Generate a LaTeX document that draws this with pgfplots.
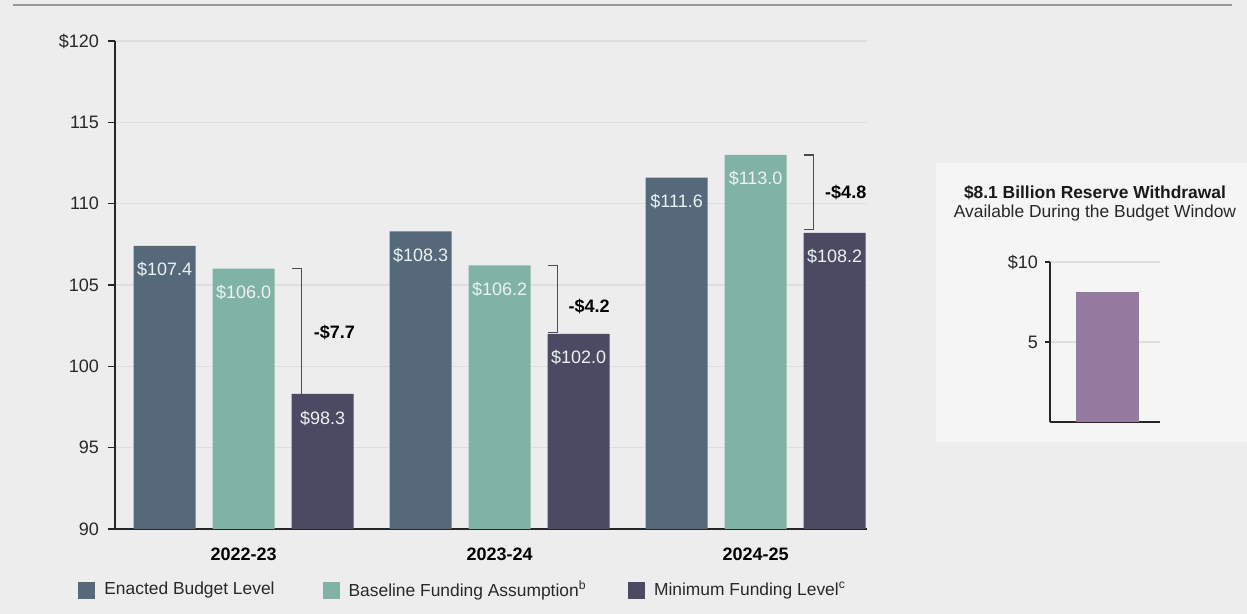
\documentclass[border=0pt]{standalone}
\usepackage{fontspec}
\setmainfont{Liberation Sans}
\usepackage{pgfplots}
\pgfplotsset{compat=1.18}

\definecolor{bg}{RGB}{237,237,237}
\definecolor{panel}{RGB}{245,245,245}
\definecolor{enacted}{RGB}{86,105,122}
\definecolor{baseline}{RGB}{128,179,165}
\definecolor{minimum}{RGB}{75,74,98}
\definecolor{reserve}{RGB}{149,122,160}
\definecolor{gridc}{RGB}{222,222,222}
\definecolor{txt}{RGB}{40,40,40}
\definecolor{barlbl}{RGB}{236,242,242}

\pgfplotsset{
  sqlegend/.style={legend image code/.code={\fill[##1] (0bp,-8.5bp) rectangle (17bp,8.5bp);}},
}
\newcommand\smallfont{\fontsize{17.4bp}{21bp}\selectfont}

\begin{document}
\fontsize{18bp}{21bp}\selectfont
\begin{tikzpicture}
\fill[bg] (0bp,0bp) rectangle (1247bp,614bp);
\path[use as bounding box] (0bp,0bp) rectangle (1247bp,614bp);
\draw[black!40, line width=2bp] (13bp,609bp) -- (1232bp,609bp);
\fill[panel] (936bp,172bp) rectangle (1247bp,451bp);

% main chart
\begin{axis}[
  at={(115bp,85bp)}, anchor=south west,
  width=752bp, height=488bp, scale only axis,
  xmin=-0.502, xmax=2.435, ymin=90, ymax=120,
  axis x line=bottom, axis y line=left,
  axis line style={-, line width=2bp, black!85},
  ybar=17bp, bar width=62bp,
  xtick={0,1,2},
  xticklabels={2022-23,2023-24,2024-25},
  xtick style={draw=none},
  xticklabel style={font=\bfseries, text=black, yshift=-6bp},
  ytick={90,95,100,105,110,115,120},
  yticklabels={90,95,100,105,110,115,\$120},
  ytick style={line width=1.5bp, black!85},
  yticklabel style={text=txt, xshift=-3bp},
  tick align=outside, major tick length=7bp,
  ymajorgrids, grid style={gridc, line width=1.2bp},
  /pgf/number format/assume math mode=true,
  point meta=explicit symbolic,
  nodes near coords,
  every node near coord/.append style={anchor=center, yshift=-24bp, text=barlbl},
  legend columns=3,
  legend style={at={(axis description cs:-0.049,-0.125)}, anchor=west,
    draw=none, fill=none, inner sep=0pt, font=\smallfont,
    nodes={inner sep=0pt, text=txt},
    /tikz/every odd column/.append style={column sep=9bp},
    /tikz/column 2/.append style={column sep=48bp},
    /tikz/column 4/.append style={column sep=42bp}},
]
\addplot[fill=enacted, draw=none, sqlegend] coordinates {
  (0,107.4) [\$107.4]
  (1,108.3) [\$108.3]
  (2,111.6) [\$111.6]
};
\addlegendentry{Enacted Budget Level}
\addplot[fill=baseline, draw=none, sqlegend] coordinates {
  (0,106.0) [\$106.0]
  (1,106.2) [\$106.2]
  (2,113.0) [\$113.0]
};
\addlegendentry{Baseline Funding Assumption\textsuperscript{b}}
\addplot[fill=minimum, draw=none, sqlegend] coordinates {
  (0,98.3) [\$98.3]
  (1,102.0) [\$102.0]
  (2,108.2) [\$108.2]
};
\addlegendentry{Minimum Funding Level\textsuperscript{c}}

% difference brackets
\draw[black!70, line width=1.3bp] (axis cs:0.1875,106.0) -- (axis cs:0.227,106.0) -- (axis cs:0.227,98.3);
\draw[black!70, line width=1.3bp] (axis cs:1.1875,106.2) -- (axis cs:1.227,106.2) -- (axis cs:1.227,102.1) -- (axis cs:1.1875,102.1);
\draw[black!70, line width=1.3bp] (axis cs:2.1875,113.0) -- (axis cs:2.227,113.0) -- (axis cs:2.227,108.4) -- (axis cs:2.1875,108.4);
\node[font=\bfseries, text=black] at (axis cs:0.355,102.1) {-\$7.7};
\node[font=\bfseries, text=black] at (axis cs:1.35,103.7) {-\$4.2};
\node[font=\bfseries, text=black] at (axis cs:2.352,110.7) {-\$4.8};
\end{axis}

% reserve inset
\node[font=\smallfont\bfseries, text=black!90] at (1095bp,421bp) {\$8.1 Billion Reserve Withdrawal};
\node[font=\smallfont, text=txt] at (1095bp,401bp) {Available During the Budget Window};
\begin{axis}[
  at={(1050bp,192bp)}, anchor=south west,
  width=110bp, height=160bp, scale only axis,
  xmin=-0.523, xmax=0.477, ymin=0, ymax=10,
  axis x line=bottom, axis y line=left,
  axis line style={-, line width=2bp, black!85},
  ybar, bar width=63bp,
  xtick=\empty,
  ytick={5,10}, yticklabels={5,\$10},
  ytick style={line width=1.5bp, black!85},
  yticklabel style={text=txt, xshift=-1bp},
  tick align=outside, major tick length=5bp,
  ymajorgrids, grid style={gridc, line width=1.2bp},
]
\addplot[fill=reserve, draw=none] coordinates {(0,8.1)};
\end{axis}
\end{tikzpicture}
\end{document}
